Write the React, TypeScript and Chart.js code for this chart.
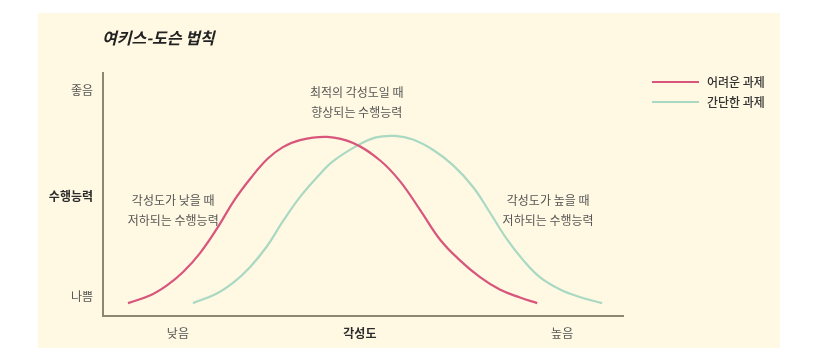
import React, { useEffect, useRef } from "react";
import { Chart, registerables } from "chart.js";

Chart.register(...registerables);

const chartTitle = "여키스-도슨 법칙";
const seriesNames = ["어려운 과제", "간단한 과제"];

// arousal (x) vs performance (y) (0..100 scales)
const hardTaskX = [4.8, 9.0, 12.3, 15.4, 18.7, 22.1, 25.2, 28.5, 31.7, 34.6, 37.9, 43.1, 48.1, 53.3, 57.1, 61.0, 64.8, 68.7, 72.5, 76.3, 80.2, 83.5];
const hardTaskY = [5.3, 8.4, 12.6, 18.1, 26.0, 36.6, 47.5, 57.0, 64.8, 69.5, 72.4, 73.7, 71.2, 64.0, 55.5, 43.6, 31.5, 22.8, 16.0, 10.9, 7.6, 5.3];

const easyTaskX = [17.3, 21.9, 25.0, 28.3, 31.5, 34.6, 37.9, 41.2, 44.2, 48.8, 52.5, 56.2, 59.6, 63.5, 67.3, 71.2, 74.4, 77.7, 80.8, 84.0, 87.9, 91.7, 96.0];
const easyTaskY = [5.3, 9.3, 13.6, 20.2, 28.6, 39.0, 49.0, 57.2, 63.6, 70.0, 73.5, 74.1, 72.6, 68.3, 62.1, 53.0, 42.6, 31.5, 23.0, 16.0, 10.9, 7.8, 5.3];

const xTickValues = [14.4, 49.4, 88.3];
const xTickLabels = ["낮음", "각성도", "높음"];
const yTickValues = [8.2, 49.4, 93];
const yTickLabels = ["나쁨", "수행능력", "좋음"];

const annotationTexts = [
  ["최적의 각성도일 때", "향상되는 수행능력"],
  ["각성도가 낮을 때", "저하되는 수행능력"],
  ["각성도가 높을 때", "저하되는 수행능력"],
];
const annotationAnchorX = [48.8, 13.5, 85.6];
const annotationAnchorY = [91.8, 47.7, 47.7];

const FONT = "'Noto Sans CJK KR', 'Noto Sans', sans-serif";
const COLORS = ["#d8557c", "#a9d9c3"];

export default function App() {
  const ref = useRef<HTMLCanvasElement | null>(null);

  useEffect(() => {
    document.body.style.margin = "0";
    const canvas = ref.current!;
    const decor = {
      id: "decor",
      beforeDraw(chart: any) {
        const c = chart.ctx;
        c.save();
        c.fillStyle = "#ffffff";
        c.fillRect(0, 0, chart.width, chart.height);
        c.fillStyle = "#fff8e2";
        c.fillRect(38, 13, 742, 335);
        c.restore();
      },
      afterDraw(chart: any) {
        const c = chart.ctx;
        const xs = chart.scales.x;
        const ys = chart.scales.y;
        c.save();
        // title
        c.fillStyle = "#222222";
        c.font = `italic bold 16px ${FONT}`;
        c.textBaseline = "middle";
        c.textAlign = "left";
        c.fillText(chartTitle, 102, 38);
        // annotations
        c.fillStyle = "#555555";
        c.font = `12px ${FONT}`;
        c.textAlign = "center";
        annotationTexts.forEach((lines, i) => {
          const px = xs.getPixelForValue(annotationAnchorX[i]);
          const py = ys.getPixelForValue(annotationAnchorY[i]);
          lines.forEach((t, j) => c.fillText(t, px, py + j * 20));
        });
        // legend
        c.textAlign = "left";
        c.font = `500 12px ${FONT}`;
        chart.data.datasets.forEach((ds: any, i: number) => {
          const y = 82 + i * 20;
          c.strokeStyle = ds.borderColor;
          c.lineWidth = 2;
          c.beginPath();
          c.moveTo(652, y);
          c.lineTo(699, y);
          c.stroke();
          c.fillStyle = "#333333";
          c.fillText(ds.label, 707, y);
        });
        c.restore();
      },
    };

    const chart = new Chart(canvas, {
      type: "line",
      data: {
        datasets: [
          {
            label: seriesNames[0],
            data: hardTaskX.map((x, i) => ({ x, y: hardTaskY[i] })),
            borderColor: COLORS[0],
            borderWidth: 2.2,
            pointRadius: 0,
            tension: 0.4,
            fill: false,
          },
          {
            label: seriesNames[1],
            data: easyTaskX.map((x, i) => ({ x, y: easyTaskY[i] })),
            borderColor: COLORS[1],
            borderWidth: 2.2,
            pointRadius: 0,
            tension: 0.4,
            fill: false,
          },
        ],
      },
      options: {
        animation: false,
        responsive: false,
        layout: { padding: { left: 0, right: 216, top: 73, bottom: 0 } },
        plugins: { legend: { display: false }, tooltip: { enabled: false }, title: { display: false } },
        scales: {
          x: {
            type: "linear",
            min: 0,
            max: 100,
            afterFit(scale: any) {
              scale.height = 46;
            },
            afterBuildTicks(scale: any) {
              scale.ticks = xTickValues.map((v) => ({ value: v }));
            },
            grid: { display: false, drawTicks: false },
            border: { display: true, color: "#8c8672", width: 2 },
            ticks: {
              padding: 10,
              maxRotation: 0,
              autoSkip: false,
              color: (ctx: any) => (ctx.index === 1 ? "#2b2b2b" : "#555555"),
              font: (ctx: any) => ({ family: FONT, size: 12, weight: ctx.index === 1 ? "bold" : "normal" }),
              callback: (_v: any, i: number) => xTickLabels[i],
            },
          },
          y: {
            type: "linear",
            min: 0,
            max: 100,
            afterFit(scale: any) {
              scale.width = 103;
            },
            afterBuildTicks(scale: any) {
              scale.ticks = yTickValues.map((v) => ({ value: v }));
            },
            grid: { display: false, drawTicks: false },
            border: { display: true, color: "#8c8672", width: 2 },
            ticks: {
              padding: 10,
              autoSkip: false,
              color: (ctx: any) => (ctx.index === 1 ? "#2b2b2b" : "#555555"),
              font: (ctx: any) => ({ family: FONT, size: 12, weight: ctx.index === 1 ? "bold" : "normal" }),
              callback: (_v: any, i: number) => yTickLabels[i],
            },
          },
        },
      },
      plugins: [decor],
    } as any);
    return () => chart.destroy();
  }, []);

  return (
    <div style={{ position: "absolute", left: 0, top: 0, width: 839, height: 362 }}>
      <canvas ref={ref} width={839} height={362} style={{ display: "block", width: 839, height: 362 }} />
    </div>
  );
}
